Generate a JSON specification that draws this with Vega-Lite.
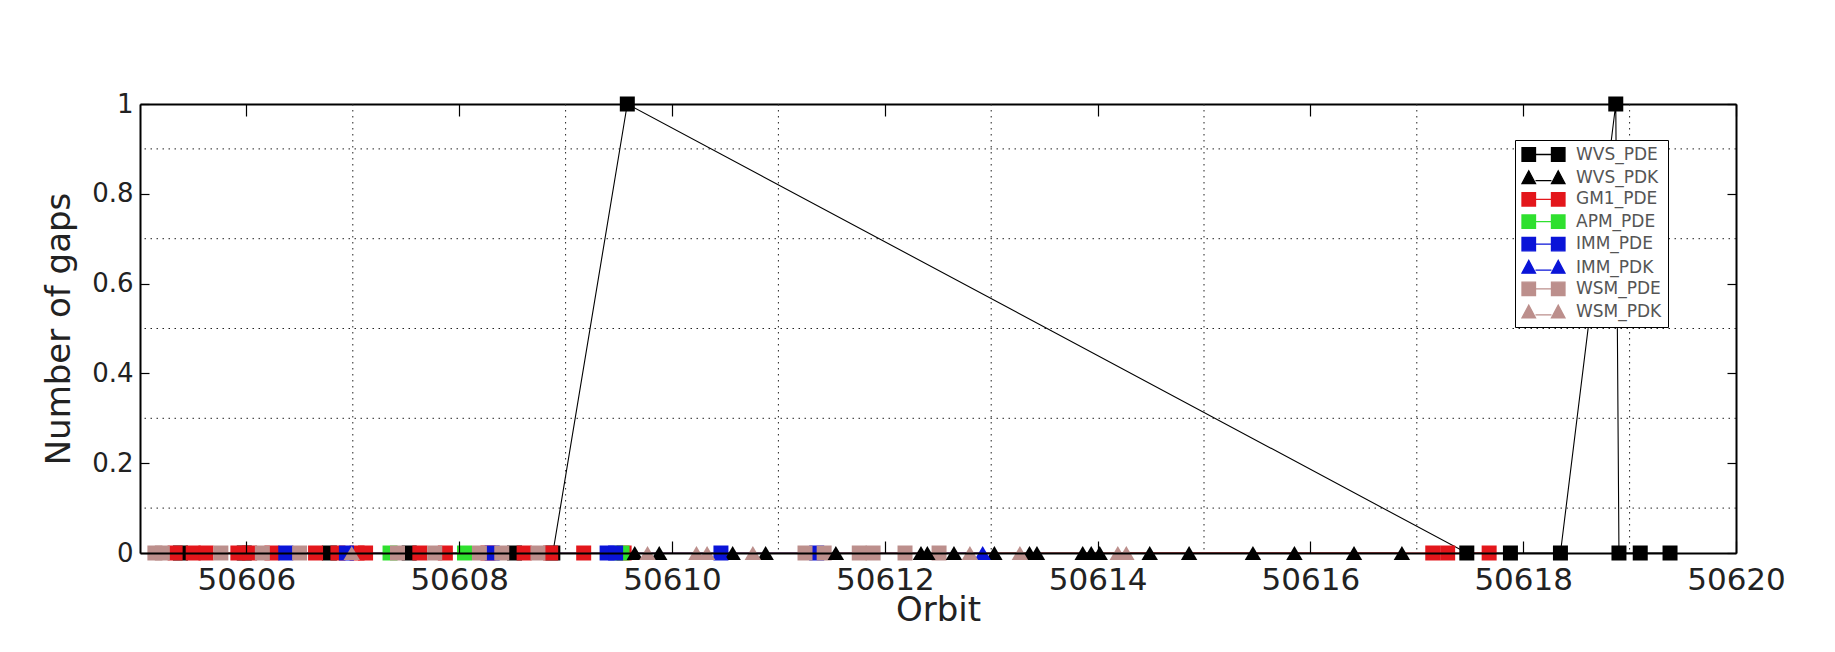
{
  "$schema": "https://vega.github.io/schema/vega-lite/v6.json",
  "width": 1596,
  "height": 449,
  "autosize": {"type": "none"},
  "padding": {"left": 140, "top": 104, "right": 99, "bottom": 99},
  "background": "white",
  "config": {
    "view": {"stroke": null},
    "font": "DejaVu Sans"
  },
  "datasets": {
    "gaps": [
      {"series": "WVS_PDE", "orbit": 50605.38, "gaps": 0},
      {"series": "WVS_PDE", "orbit": 50605.98, "gaps": 0},
      {"series": "WVS_PDE", "orbit": 50606.78, "gaps": 0},
      {"series": "WVS_PDE", "orbit": 50607.53, "gaps": 0},
      {"series": "WVS_PDE", "orbit": 50608.52, "gaps": 0},
      {"series": "WVS_PDE", "orbit": 50608.88, "gaps": 0},
      {"series": "WVS_PDE", "orbit": 50609.58, "gaps": 1},
      {"series": "WVS_PDE", "orbit": 50617.47, "gaps": 0},
      {"series": "WVS_PDE", "orbit": 50617.88, "gaps": 0},
      {"series": "WVS_PDE", "orbit": 50618.35, "gaps": 0},
      {"series": "WVS_PDE", "orbit": 50618.87, "gaps": 1},
      {"series": "WVS_PDE", "orbit": 50618.90, "gaps": 0},
      {"series": "WVS_PDE", "orbit": 50619.10, "gaps": 0},
      {"series": "WVS_PDE", "orbit": 50619.38, "gaps": 0},
      {"series": "WVS_PDK", "orbit": 50609.65, "gaps": 0},
      {"series": "WVS_PDK", "orbit": 50609.88, "gaps": 0},
      {"series": "WVS_PDK", "orbit": 50610.57, "gaps": 0},
      {"series": "WVS_PDK", "orbit": 50610.88, "gaps": 0},
      {"series": "WVS_PDK", "orbit": 50611.54, "gaps": 0},
      {"series": "WVS_PDK", "orbit": 50612.34, "gaps": 0},
      {"series": "WVS_PDK", "orbit": 50612.40, "gaps": 0},
      {"series": "WVS_PDK", "orbit": 50612.65, "gaps": 0},
      {"series": "WVS_PDK", "orbit": 50613.03, "gaps": 0},
      {"series": "WVS_PDK", "orbit": 50613.36, "gaps": 0},
      {"series": "WVS_PDK", "orbit": 50613.43, "gaps": 0},
      {"series": "WVS_PDK", "orbit": 50613.86, "gaps": 0},
      {"series": "WVS_PDK", "orbit": 50613.94, "gaps": 0},
      {"series": "WVS_PDK", "orbit": 50614.02, "gaps": 0},
      {"series": "WVS_PDK", "orbit": 50614.49, "gaps": 0},
      {"series": "WVS_PDK", "orbit": 50614.86, "gaps": 0},
      {"series": "WVS_PDK", "orbit": 50615.46, "gaps": 0},
      {"series": "WVS_PDK", "orbit": 50615.85, "gaps": 0},
      {"series": "WVS_PDK", "orbit": 50616.41, "gaps": 0},
      {"series": "WVS_PDK", "orbit": 50616.86, "gaps": 0},
      {"series": "GM1_PDE", "orbit": 50605.33, "gaps": 0},
      {"series": "GM1_PDE", "orbit": 50605.50, "gaps": 0},
      {"series": "GM1_PDE", "orbit": 50605.62, "gaps": 0},
      {"series": "GM1_PDE", "orbit": 50605.92, "gaps": 0},
      {"series": "GM1_PDE", "orbit": 50606.03, "gaps": 0},
      {"series": "GM1_PDE", "orbit": 50606.24, "gaps": 0},
      {"series": "GM1_PDE", "orbit": 50606.65, "gaps": 0},
      {"series": "GM1_PDE", "orbit": 50606.86, "gaps": 0},
      {"series": "GM1_PDE", "orbit": 50607.04, "gaps": 0},
      {"series": "GM1_PDE", "orbit": 50607.12, "gaps": 0},
      {"series": "GM1_PDE", "orbit": 50607.63, "gaps": 0},
      {"series": "GM1_PDE", "orbit": 50607.87, "gaps": 0},
      {"series": "GM1_PDE", "orbit": 50608.27, "gaps": 0},
      {"series": "GM1_PDE", "orbit": 50608.61, "gaps": 0},
      {"series": "GM1_PDE", "orbit": 50608.86, "gaps": 0},
      {"series": "GM1_PDE", "orbit": 50609.17, "gaps": 0},
      {"series": "GM1_PDE", "orbit": 50609.55, "gaps": 0},
      {"series": "GM1_PDE", "orbit": 50617.15, "gaps": 0},
      {"series": "GM1_PDE", "orbit": 50617.29, "gaps": 0},
      {"series": "GM1_PDE", "orbit": 50617.68, "gaps": 0},
      {"series": "APM_PDE", "orbit": 50607.35, "gaps": 0},
      {"series": "APM_PDE", "orbit": 50608.05, "gaps": 0},
      {"series": "APM_PDE", "orbit": 50609.53, "gaps": 0},
      {"series": "IMM_PDE", "orbit": 50606.37, "gaps": 0},
      {"series": "IMM_PDE", "orbit": 50606.94, "gaps": 0},
      {"series": "IMM_PDE", "orbit": 50608.31, "gaps": 0},
      {"series": "IMM_PDE", "orbit": 50609.39, "gaps": 0},
      {"series": "IMM_PDE", "orbit": 50609.47, "gaps": 0},
      {"series": "IMM_PDE", "orbit": 50610.46, "gaps": 0},
      {"series": "IMM_PDE", "orbit": 50611.36, "gaps": 0},
      {"series": "IMM_PDK", "orbit": 50606.97, "gaps": 0},
      {"series": "IMM_PDK", "orbit": 50610.45, "gaps": 0},
      {"series": "IMM_PDK", "orbit": 50612.92, "gaps": 0},
      {"series": "WSM_PDE", "orbit": 50605.14, "gaps": 0},
      {"series": "WSM_PDE", "orbit": 50605.21, "gaps": 0},
      {"series": "WSM_PDE", "orbit": 50605.76, "gaps": 0},
      {"series": "WSM_PDE", "orbit": 50606.15, "gaps": 0},
      {"series": "WSM_PDE", "orbit": 50606.50, "gaps": 0},
      {"series": "WSM_PDE", "orbit": 50607.42, "gaps": 0},
      {"series": "WSM_PDE", "orbit": 50607.77, "gaps": 0},
      {"series": "WSM_PDE", "orbit": 50608.19, "gaps": 0},
      {"series": "WSM_PDE", "orbit": 50608.40, "gaps": 0},
      {"series": "WSM_PDE", "orbit": 50608.74, "gaps": 0},
      {"series": "WSM_PDE", "orbit": 50611.25, "gaps": 0},
      {"series": "WSM_PDE", "orbit": 50611.43, "gaps": 0},
      {"series": "WSM_PDE", "orbit": 50611.76, "gaps": 0},
      {"series": "WSM_PDE", "orbit": 50611.89, "gaps": 0},
      {"series": "WSM_PDE", "orbit": 50612.19, "gaps": 0},
      {"series": "WSM_PDE", "orbit": 50612.51, "gaps": 0},
      {"series": "WSM_PDK", "orbit": 50606.99, "gaps": 0},
      {"series": "WSM_PDK", "orbit": 50609.77, "gaps": 0},
      {"series": "WSM_PDK", "orbit": 50610.23, "gaps": 0},
      {"series": "WSM_PDK", "orbit": 50610.33, "gaps": 0},
      {"series": "WSM_PDK", "orbit": 50610.76, "gaps": 0},
      {"series": "WSM_PDK", "orbit": 50612.80, "gaps": 0},
      {"series": "WSM_PDK", "orbit": 50613.27, "gaps": 0},
      {"series": "WSM_PDK", "orbit": 50614.19, "gaps": 0},
      {"series": "WSM_PDK", "orbit": 50614.27, "gaps": 0}
    ],
    "xgrid": [
      {"orbit": 50607}, {"orbit": 50609}, {"orbit": 50611}, {"orbit": 50613},
      {"orbit": 50615}, {"orbit": 50617}, {"orbit": 50619}
    ],
    "ygrid": [
      {"gaps": 0.1}, {"gaps": 0.3}, {"gaps": 0.5}, {"gaps": 0.7}, {"gaps": 0.9}
    ]
  },
  "resolve": {"axis": {"x": "independent", "y": "independent"}},
  "layer": [
    {
      "data": {"name": "gaps"},
      "mark": {"type": "point", "filled": true, "opacity": 0, "clip": false},
      "encoding": {
        "x": {"field": "orbit", "type": "quantitative", "scale": {"domain": [50605, 50620], "nice": false, "zero": false}, "axis": null},
        "y": {"field": "gaps", "type": "quantitative", "scale": {"domain": [0, 1], "nice": false}, "axis": null},
        "color": {"field": "series", "type": "nominal",
          "scale": {"domain": ["WVS_PDE", "WVS_PDK", "GM1_PDE", "APM_PDE", "IMM_PDE", "IMM_PDK", "WSM_PDE", "WSM_PDK"],
                    "range": ["#000000", "#000000", "#e3161b", "#2fe02f", "#0a14d8", "#0a14d8", "#bc8f8c", "#bc8f8c"]},
          "legend": {"orient": "none", "legendX": 1375, "legendY": 36, "title": null,
            "fillColor": "white", "strokeColor": "black", "padding": 6, "rowPadding": 3.4,
            "labelFont": "DejaVu Sans", "labelFontSize": 17, "labelColor": "#555", "labelOffset": 38,
            "symbolSize": 225, "symbolStrokeWidth": 1.3, "symbolOpacity": 1}},
        "stroke": {"field": "series", "type": "nominal",
          "scale": {"domain": ["WVS_PDE", "WVS_PDK", "GM1_PDE", "APM_PDE", "IMM_PDE", "IMM_PDK", "WSM_PDE", "WSM_PDK"],
                    "range": ["#000000", "#000000", "#e3161b", "#2fe02f", "#0a14d8", "#0a14d8", "#bc8f8c", "#bc8f8c"]},
          "legend": {"orient": "none", "legendX": 1375, "legendY": 36, "title": null,
            "fillColor": "white", "strokeColor": "black", "padding": 6, "rowPadding": 3.4,
            "labelFont": "DejaVu Sans", "labelFontSize": 17, "labelColor": "#555", "labelOffset": 38,
            "symbolSize": 225, "symbolStrokeWidth": 1.3, "symbolOpacity": 1}},
        "shape": {"field": "series", "type": "nominal",
          "scale": {"domain": ["WVS_PDE", "WVS_PDK", "GM1_PDE", "APM_PDE", "IMM_PDE", "IMM_PDK", "WSM_PDE", "WSM_PDK"],
                    "range": [
                      "M-1,-0.9H0.8V0.9H-1Z M2.93,-0.9H4.73V0.9H2.93Z M0.8,0H2.93",
                      "M-1,0.75L-0.1,-0.95L0.8,0.75Z M2.93,0.75L3.83,-0.95L4.73,0.75Z M0.8,0.35H2.93",
                      "M-1,-0.9H0.8V0.9H-1Z M2.93,-0.9H4.73V0.9H2.93Z M0.8,0H2.93",
                      "M-1,-0.9H0.8V0.9H-1Z M2.93,-0.9H4.73V0.9H2.93Z M0.8,0H2.93",
                      "M-1,-0.9H0.8V0.9H-1Z M2.93,-0.9H4.73V0.9H2.93Z M0.8,0H2.93",
                      "M-1,0.75L-0.1,-0.95L0.8,0.75Z M2.93,0.75L3.83,-0.95L4.73,0.75Z M0.8,0.35H2.93",
                      "M-1,-0.9H0.8V0.9H-1Z M2.93,-0.9H4.73V0.9H2.93Z M0.8,0H2.93",
                      "M-1,0.75L-0.1,-0.95L0.8,0.75Z M2.93,0.75L3.83,-0.95L4.73,0.75Z M0.8,0.35H2.93"
                    ]},
          "legend": {"orient": "none", "legendX": 1375, "legendY": 36, "title": null,
            "fillColor": "white", "strokeColor": "black", "padding": 6, "rowPadding": 3.4,
            "labelFont": "DejaVu Sans", "labelFontSize": 17, "labelColor": "#555", "labelOffset": 38,
            "symbolSize": 225, "symbolStrokeWidth": 1.3, "symbolOpacity": 1}}
      }
    },
    {
      "data": {"name": "xgrid"},
      "mark": {"type": "rule", "stroke": "#222", "strokeWidth": 1, "strokeDash": [1.5, 4.5]},
      "encoding": {
        "x": {"field": "orbit", "type": "quantitative", "axis": null}
      }
    },
    {
      "data": {"name": "ygrid"},
      "mark": {"type": "rule", "stroke": "#222", "strokeWidth": 1, "strokeDash": [1.5, 4.5]},
      "encoding": {
        "y": {"field": "gaps", "type": "quantitative", "axis": null}
      }
    },
    {
      "data": {"name": "gaps"},
      "mark": {"type": "line", "strokeWidth": 1.1, "clip": false},
      "encoding": {
        "x": {"field": "orbit", "type": "quantitative",
          "axis": {"orient": "bottom", "values": [50606, 50608, 50610, 50612, 50614, 50616, 50618, 50620], "format": "d",
            "labelFontSize": 31, "labelColor": "#222", "labelFlush": false, "labelOverlap": false, "labelPadding": 24,
            "tickSize": -12, "tickColor": "#000", "tickWidth": 1.2, "domainColor": "#000", "domainWidth": 2.2, "grid": false,
            "title": "Orbit", "titleFontSize": 34, "titleFontWeight": "normal", "titleColor": "#222", "titlePadding": -2, "zindex": 1}},
        "y": {"field": "gaps", "type": "quantitative",
          "axis": {"orient": "left", "values": [0, 0.2, 0.4, 0.6, 0.8, 1], "format": "~g",
            "labelFontSize": 26, "labelColor": "#222", "labelFlush": false, "labelOverlap": false, "labelPadding": 16,
            "tickSize": -9, "tickColor": "#000", "tickWidth": 1.2, "domainColor": "#000", "domainWidth": 2, "grid": false,
            "title": "Number of gaps", "titleFontSize": 34, "titleFontWeight": "normal", "titleColor": "#222", "titlePadding": 15, "zindex": 1}},
        "color": {"field": "series", "type": "nominal"},
        "detail": {"field": "series"}
      }
    },
    {
      "data": {"name": "gaps"},
      "transform": [{"filter": "indexof(datum.series, 'PDE') >= 0"}],
      "mark": {"type": "point", "shape": "square", "filled": true, "opacity": 1, "size": 225, "clip": false},
      "encoding": {
        "x": {"field": "orbit", "type": "quantitative",
          "axis": {"orient": "top", "values": [50606, 50608, 50610, 50612, 50614, 50616, 50618, 50620], "labels": false,
            "tickSize": -12, "tickColor": "#000", "tickWidth": 1.2, "domainColor": "#000", "domainWidth": 2, "grid": false, "title": null}},
        "y": {"field": "gaps", "type": "quantitative",
          "axis": {"orient": "right", "values": [0, 0.2, 0.4, 0.6, 0.8, 1], "labels": false,
            "tickSize": -9, "tickColor": "#000", "tickWidth": 1.2, "domainColor": "#000", "domainWidth": 2, "grid": false, "title": null}},
        "color": {"field": "series", "type": "nominal"}
      }
    },
    {
      "data": {"name": "gaps"},
      "transform": [{"filter": "indexof(datum.series, 'PDK') >= 0"}],
      "mark": {"type": "point", "shape": "triangle-up", "filled": true, "opacity": 1, "size": 270, "clip": false},
      "encoding": {
        "x": {"field": "orbit", "type": "quantitative", "axis": null},
        "y": {"field": "gaps", "type": "quantitative", "axis": null},
        "color": {"field": "series", "type": "nominal"}
      }
    }
  ]
}
